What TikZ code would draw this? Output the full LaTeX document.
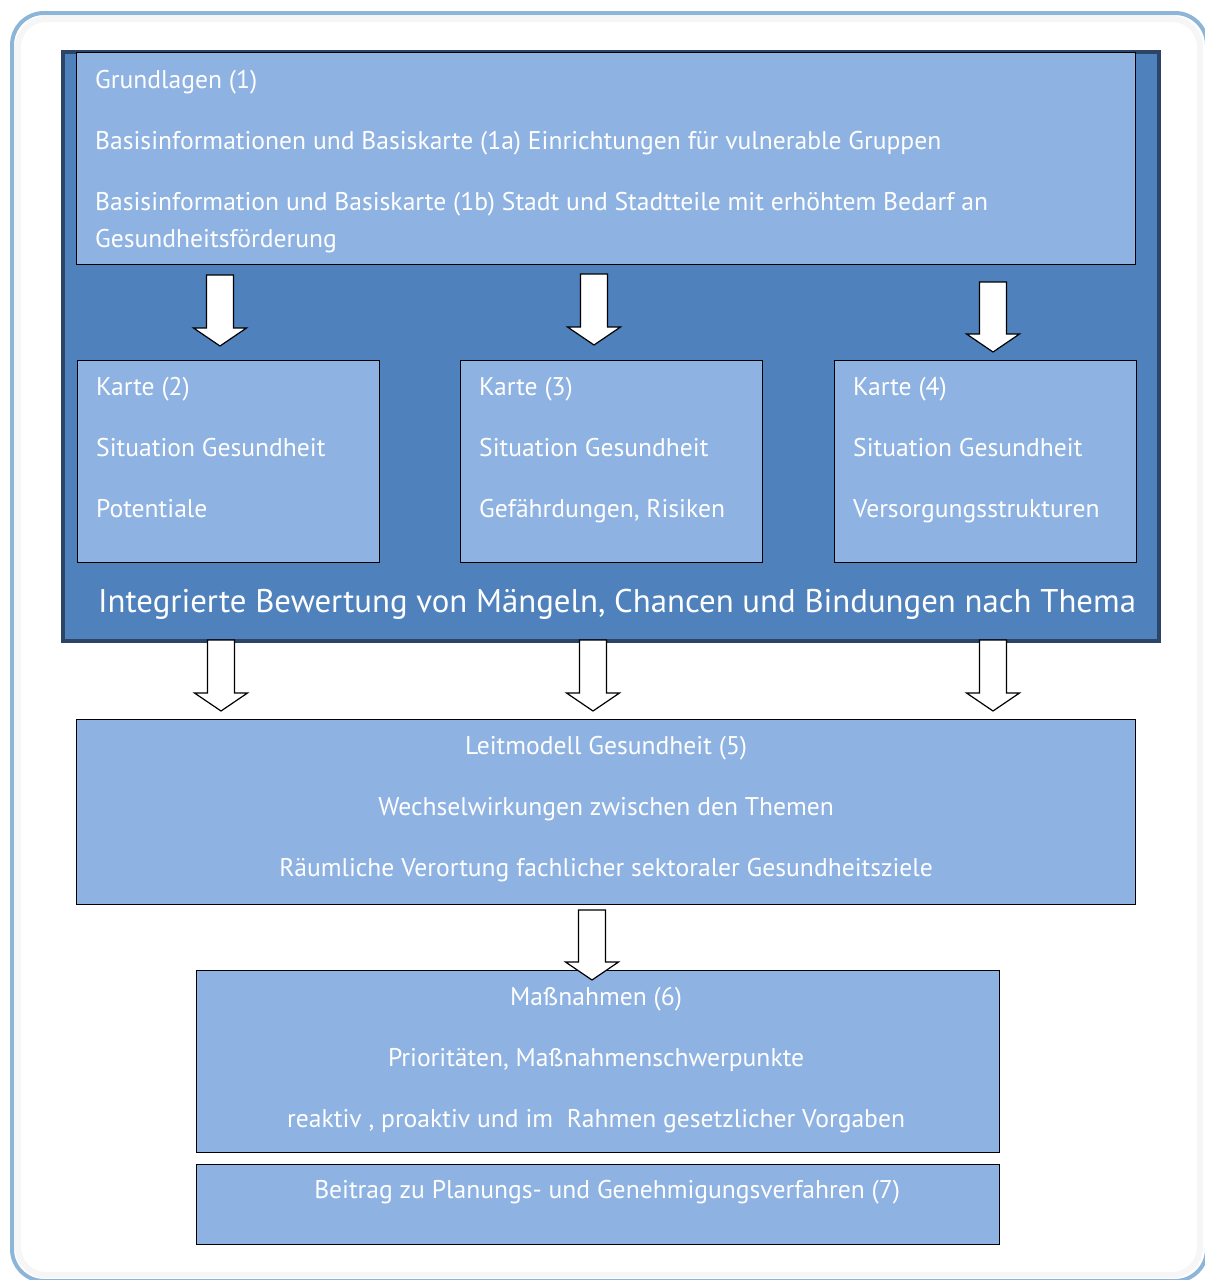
\documentclass[tikz,border=0pt]{standalone}
\usepackage{fontspec}
\setmainfont{PT Sans}
\usepackage{tikz}
\usetikzlibrary{calc,positioning}

\definecolor{hellblau}{HTML}{8EB2E1}
\definecolor{mittelblau}{HTML}{4F81BD}
\definecolor{randblau}{HTML}{2B4468}
\definecolor{rahmenblau}{HTML}{8CB5D8}

\tikzset{
  kasten/.style={draw=black,line width=1.2pt,fill=hellblau,anchor=north west,inner sep=0pt},
  schrift/.style={text=white,inner sep=0pt,font=\fontsize{25.6}{37}\selectfont},
  links/.style={schrift,anchor=base west,align=left},
  mitte/.style={schrift,anchor=base,align=center},
  pfeil/.style={draw=black,line width=1.2pt,fill=white,line join=miter}
}

% block arrow: #1 top of shaft, #2 tip
\newcommand{\blockpfeil}[2]{%
  \draw[pfeil] ($(#1)+(-13.5,0)$) -- ($(#2)+(-13.5,-18)$) -- ($(#2)+(-26.5,-18)$) -- (#2)
    -- ($(#2)+(26.5,-18)$) -- ($(#2)+(13.5,-18)$) -- ($(#1)+(13.5,0)$) -- cycle;}

\begin{document}
\begin{tikzpicture}[x=1pt,y=-1pt]
  \useasboundingbox (0,0) rectangle (1205,1280);
  \begin{scope}
  \clip (0,0) rectangle (1205,1280);
  % outer frame
  \draw[draw=gray!7,line width=6pt,rounded corners=28pt] (18,19) rectangle (1200,1275);
  \draw[draw=rahmenblau,line width=4pt,rounded corners=32pt] (12,13) rectangle (1207,1281);
  \end{scope}

  % dark background
  \node (bewertung) [draw=randblau,line width=4pt,fill=mittelblau,anchor=north west,inner sep=0pt,
    minimum width=1096pt,minimum height=589pt] at (61,50) {};

  % boxes
  \node (grundlagen) [kasten,minimum width=1059pt,minimum height=212pt] at (76,52) {};
  \node (karte2) [kasten,minimum width=302pt,minimum height=202pt] at (77,360) {};
  \node (karte3) [kasten,minimum width=302pt,minimum height=202pt] at (460,360) {};
  \node (karte4) [kasten,minimum width=302pt,minimum height=202pt] at (834,360) {};
  \node (leitmodell) [kasten,minimum width=1059pt,minimum height=185pt] at (76,719) {};
  \node (massnahmen) [kasten,minimum width=803pt,minimum height=182pt] at (196,970) {};
  \node (beitrag) [kasten,minimum width=803pt,minimum height=80pt] at (196,1164) {};

  % texts (base = last line)
  \node (tgrund) [links] at ($(grundlagen.south west)+(19,-18)$) {Grundlagen (1)\\[24pt]
    Basisinformationen und Basiskarte (1a) Einrichtungen für vulnerable Gruppen\\[24pt]
    Basisinformation und Basiskarte (1b) Stadt und Stadtteile mit erhöhtem Bedarf an\\
    Gesundheitsförderung};
  \node (tkarte2) [links] at ($(karte2.south west)+(19,-46)$) {Karte (2)\\[24pt]
    Situation Gesundheit\\[24pt]Potentiale};
  \node (tkarte3) [links] at ($(karte3.south west)+(19,-46)$) {Karte (3)\\[24pt]
    Situation Gesundheit\\[24pt]Gefährdungen, Risiken};
  \node (tkarte4) [links] at ($(karte4.south west)+(19,-46)$) {Karte (4)\\[24pt]
    Situation Gesundheit\\[24pt]Versorgungsstrukturen};
  \node (tbewertung) [schrift,anchor=base west,font=\fontsize{32.8}{38}\selectfont] at (98,612)
    {Integrierte Bewertung von Mängeln, Chancen und Bindungen nach Thema};
  \node (tleit) [mitte] at ($(leitmodell.south)+(0,-29)$) {Leitmodell Gesundheit (5)\\[24pt]
    Wechselwirkungen zwischen den Themen\\[24pt]
    Räumliche Verortung fachlicher sektoraler Gesundheitsziele};
  \node (tmass) [mitte] at ($(massnahmen.south)+(-2,-26)$) {Maßnahmen (6)\\[24pt]
    Prioritäten, Maßnahmenschwerpunkte\\[24pt]
    reaktiv , proaktiv und im~~Rahmen gesetzlicher Vorgaben};
  \node (tbeitrag) [mitte] at ($(beitrag.north)+(9,34)$) {Beitrag zu Planungs- und Genehmigungsverfahren (7)};

  % arrow ends
  \coordinate (a2s) at (220,275);  \coordinate (a2e) at (220,346);
  \coordinate (a3s) at (594,274);  \coordinate (a3e) at (594,345);
  \coordinate (a4s) at (993,282);  \coordinate (a4e) at (993,352);
  \coordinate (b2s) at (221,640);  \coordinate (b2e) at (221,711);
  \coordinate (b3s) at (593,640);  \coordinate (b3e) at (593,711);
  \coordinate (b4s) at (993,640);  \coordinate (b4e) at (993,711);
  \coordinate (c5s) at (592,910);  \coordinate (c5e) at (592,980);

  \blockpfeil{a2s}{a2e}
  \blockpfeil{a3s}{a3e}
  \blockpfeil{a4s}{a4e}
  \blockpfeil{b2s}{b2e}
  \blockpfeil{b3s}{b3e}
  \blockpfeil{b4s}{b4e}
  \blockpfeil{c5s}{c5e}
\end{tikzpicture}
\end{document}
